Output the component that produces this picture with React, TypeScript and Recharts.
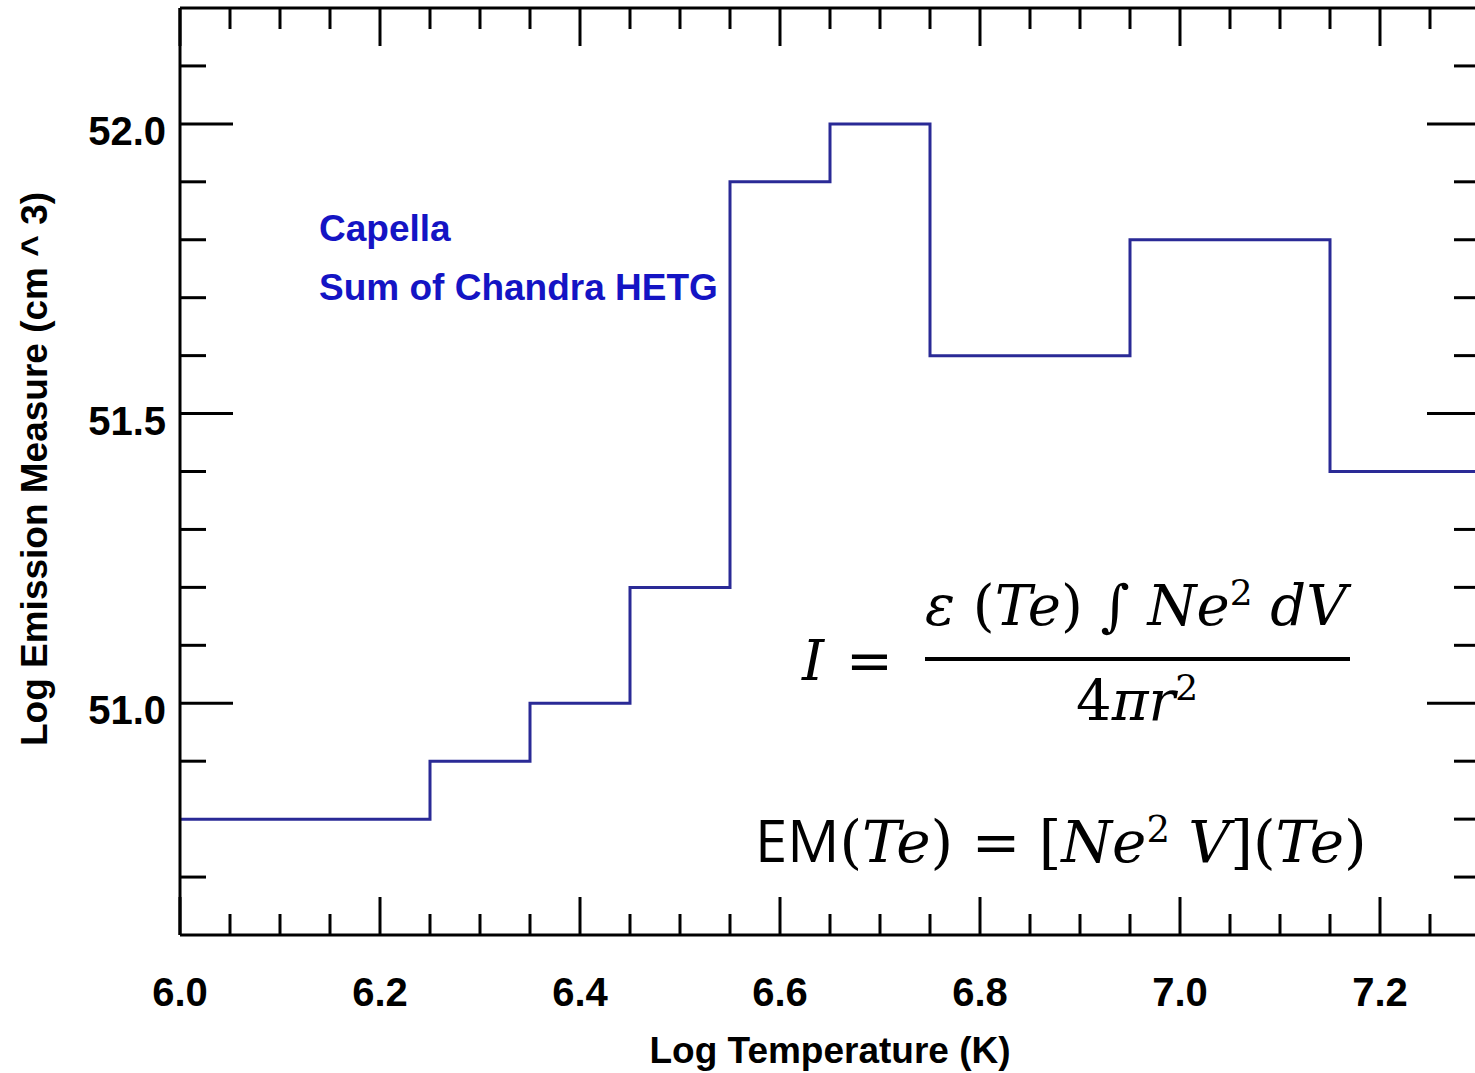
import { Line, LineChart, XAxis, YAxis } from "recharts";

// Differential emission measure of Capella, binned in log T (step edges)
const binEdges = [6.0, 6.25, 6.35, 6.45, 6.55, 6.65, 6.75, 6.95, 7.15, 7.3];
const logEM = [50.8, 50.9, 51.0, 51.2, 51.9, 52.0, 51.6, 51.8, 51.4, 51.4];

const xMajorTicks = [6.0, 6.2, 6.4, 6.6, 6.8, 7.0, 7.2];
const xMinorTicks = [
  6.05, 6.1, 6.15, 6.25, 6.3, 6.35, 6.45, 6.5, 6.55, 6.65, 6.7, 6.75, 6.85,
  6.9, 6.95, 7.05, 7.1, 7.15, 7.25,
];
const yMajorTicks = [51.0, 51.5, 52.0];
const yMinorTicks = [
  50.7, 50.8, 50.9, 51.1, 51.2, 51.3, 51.4, 51.6, 51.7, 51.8, 51.9, 52.1,
];

const legendLines = ["Capella", "Sum of Chandra HETG"];

const INK = "#000";
const STEP_BLUE = "#2a2a96";
const TEXT_BLUE = "#1414c4";
const LABEL_FONT = "'Liberation Sans', Arial, sans-serif";
const MATH_FONT = "'DejaVu Serif', 'Liberation Serif', serif";

const data = binEdges.map((t, i) => ({ t, em: logEM[i] }));
const xTicks = [...xMajorTicks, ...xMinorTicks].sort((a, b) => a - b);
const yTicks = [...yMajorTicks, ...yMinorTicks].sort((a, b) => a - b);

// Recharts paints axes over the series; the histogram's end segments run along
// the frame edges, so the ticks they sit on are left out to keep them blue.
const coveredTick = {
  left: logEM[0],
  right: logEM[logEM.length - 1],
};

function XTick(props: any) {
  const { x, y, payload, side } = props;
  const v = payload.value;
  const major = xMajorTicks.includes(v);
  const len = major ? 38 : 21;
  const end = side === "bottom" ? y - len : y + len;
  return (
    <g>
      <line x1={x} y1={y} x2={x} y2={end} stroke={INK} strokeWidth={3} />
      {side === "bottom" && major && (
        <text
          x={x}
          y={y + 71}
          textAnchor="middle"
          fontFamily={LABEL_FONT}
          fontWeight="bold"
          fontSize={40}
          fill={INK}
        >
          {v.toFixed(1)}
        </text>
      )}
    </g>
  );
}

function YTick(props: any) {
  const { x, y, payload, side } = props;
  const v = payload.value;
  const major = yMajorTicks.includes(v);
  const len = major ? 53 : 26;
  const end = side === "left" ? x + len : x - len;
  const hidden = v === coveredTick[side as "left" | "right"];
  return (
    <g>
      {!hidden && (
        <line x1={x} y1={y} x2={end} y2={y} stroke={INK} strokeWidth={3} />
      )}
      {side === "left" && major && (
        <text
          x={x - 14}
          y={y + 21}
          textAnchor="end"
          fontFamily={LABEL_FONT}
          fontWeight="bold"
          fontSize={40}
          fill={INK}
        >
          {v.toFixed(1)}
        </text>
      )}
    </g>
  );
}

const axisLine = { stroke: INK, strokeWidth: 3 };

export default function App() {
  return (
    <div
      style={{
        position: "absolute",
        left: 0,
        top: 0,
        width: 1475,
        height: 1073,
        overflow: "hidden",
        background: "#fff",
      }}
    >
      <LineChart
        width={1500}
        height={1073}
        data={data}
        margin={{ top: 7, right: 19, bottom: 78, left: 80 }}
      >
        <XAxis
          xAxisId="bottom"
          dataKey="t"
          type="number"
          domain={[6.0, 7.3]}
          allowDataOverflow
          ticks={xTicks}
          interval={0}
          height={60}
          tickSize={0}
          tickMargin={0}
          tickLine={false}
          axisLine={axisLine}
          tick={(p: any) => <XTick {...p} side="bottom" />}
        />
        <XAxis
          xAxisId="top"
          dataKey="t"
          orientation="top"
          type="number"
          domain={[6.0, 7.3]}
          allowDataOverflow
          ticks={xTicks}
          interval={0}
          height={1}
          tickSize={0}
          tickMargin={0}
          tickLine={false}
          axisLine={axisLine}
          tick={(p: any) => <XTick {...p} side="top" />}
        />
        <YAxis
          yAxisId="left"
          type="number"
          domain={[50.6, 52.2]}
          allowDataOverflow
          ticks={yTicks}
          interval={0}
          width={100}
          tickSize={0}
          tickMargin={0}
          tickLine={false}
          axisLine={axisLine}
          tick={(p: any) => <YTick {...p} side="left" />}
        />
        <YAxis
          yAxisId="right"
          dataKey="em"
          orientation="right"
          type="number"
          domain={[50.6, 52.2]}
          allowDataOverflow
          ticks={yTicks}
          interval={0}
          width={1}
          tickSize={0}
          tickMargin={0}
          tickLine={false}
          axisLine={axisLine}
          tick={(p: any) => <YTick {...p} side="right" />}
        />
        <Line
          xAxisId="bottom"
          yAxisId="left"
          dataKey="em"
          type="stepAfter"
          stroke={STEP_BLUE}
          strokeWidth={3}
          dot={false}
          activeDot={false}
          isAnimationActive={false}
        />
      </LineChart>

      {/* titles, legend text and the two equations */}
      <svg
        width={1475}
        height={1073}
        style={{ position: "absolute", left: 0, top: 0, pointerEvents: "none" }}
      >
        <text
          x={830}
          y={1063}
          textAnchor="middle"
          fontFamily={LABEL_FONT}
          fontWeight="bold"
          fontSize={37}
          fill={INK}
        >
          Log Temperature (K)
        </text>
        <text
          transform="translate(47,469) rotate(-90)"
          textAnchor="middle"
          fontFamily={LABEL_FONT}
          fontWeight="bold"
          fontSize={37}
          fill={INK}
        >
          Log Emission Measure (cm ^ 3)
        </text>

        {legendLines.map((s, i) => (
          <text
            key={s}
            x={319}
            y={241 + i * 59}
            fontFamily={LABEL_FONT}
            fontWeight="bold"
            fontSize={37}
            fill={TEXT_BLUE}
          >
            {s}
          </text>
        ))}

        <g fontFamily={MATH_FONT} fill={INK}>
          <text x={802} y={680} fontSize={56} fontStyle="italic">
            I
          </text>
          <text x={846} y={680} fontSize={56}>
            =
          </text>
          <text x={925} y={625} fontSize={56}>
            <tspan fontStyle="italic">{"ε "}</tspan>
            <tspan>{"("}</tspan>
            <tspan fontStyle="italic">{"Te"}</tspan>
            <tspan>{") ∫ "}</tspan>
            <tspan fontStyle="italic">{"Ne"}</tspan>
            <tspan dy={-20} fontSize={36}>
              {"2"}
            </tspan>
            <tspan dy={20}>{" "}</tspan>
            <tspan fontStyle="italic">{"dV"}</tspan>
          </text>
          <rect x={925} y={657} width={425} height={4} fill={INK} />
          <text x={1076} y={720} fontSize={56}>
            <tspan>{"4"}</tspan>
            <tspan fontStyle="italic">{"πr"}</tspan>
            <tspan dy={-20} fontSize={36}>
              {"2"}
            </tspan>
          </text>

          <text x={755} y={862} fontSize={58}>
            <tspan fontFamily="'Open Sans', 'Noto Sans', sans-serif">{"EM"}</tspan>
            <tspan>{"("}</tspan>
            <tspan fontStyle="italic">{"Te"}</tspan>
            <tspan>{") = ["}</tspan>
            <tspan fontStyle="italic">{"Ne"}</tspan>
            <tspan dy={-20} fontSize={37}>
              {"2"}
            </tspan>
            <tspan dy={20}>{" "}</tspan>
            <tspan fontStyle="italic">{"V"}</tspan>
            <tspan>{"]("}</tspan>
            <tspan fontStyle="italic">{"Te"}</tspan>
            <tspan>{")"}</tspan>
          </text>
        </g>
      </svg>
    </div>
  );
}
